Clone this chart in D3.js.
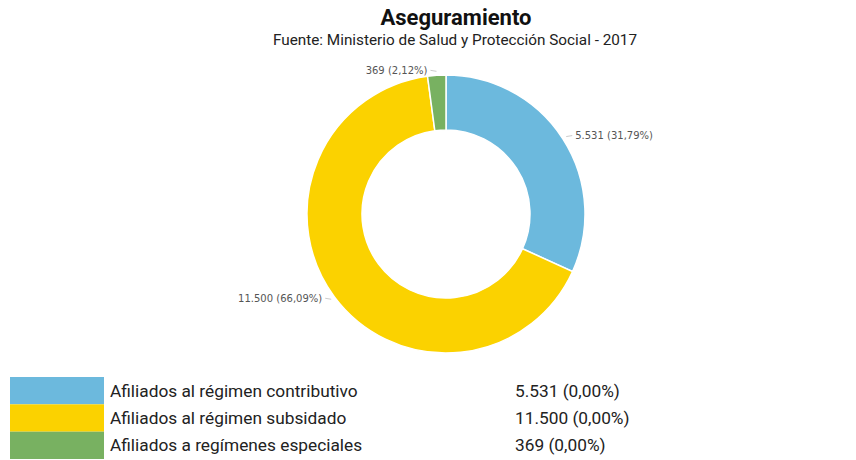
<!DOCTYPE html>
<html>
<head>
<meta charset="utf-8">
<script src="https://cdn.jsdelivr.net/npm/d3@7"></script>
<style>
  html, body { margin: 0; padding: 0; background: #fff; }
  svg { display: block; font-family: Roboto, "Noto Sans", sans-serif; }
</style>
</head>
<body>
<svg id="chart" width="856" height="460"></svg>
<script>
// Afiliados por régimen (2017)
const categories = [
  "Afiliados al régimen contributivo",
  "Afiliados al régimen subsidado",
  "Afiliados a regímenes especiales"
];
const values = [5531, 11500, 369];
const colors = ["#6cb9dd", "#fbd200", "#78b161"];
const legendValueLabels = ["5.531 (0,00%)", "11.500 (0,00%)", "369 (0,00%)"];

const title = "Aseguramiento";
const subtitle = "Fuente: Ministerio de Salud y Protección Social - 2017";

const svg = d3.select("#chart");

const fmtNum = d3.formatLocale({ decimal: ",", thousands: ".", grouping: [3], currency: ["$", ""] });
const fmtInt = fmtNum.format(",d");
const fmtPct = fmtNum.format(".2f");

// Titles
svg.append("text")
  .attr("x", 456).attr("y", 25)
  .attr("text-anchor", "middle")
  .attr("font-size", 22).attr("font-weight", 700)
  .attr("fill", "#111")
  .text(title);
svg.append("text")
  .attr("x", 455).attr("y", 45)
  .attr("text-anchor", "middle")
  .attr("font-size", 15.3)
  .attr("fill", "#222")
  .text(subtitle);

// Donut
const cx = 446, cy = 214, rOuter = 139, rInner = 84;
const total = d3.sum(values);
const pie = d3.pie().sort(null).value(d => d)(values);
const arc = d3.arc().innerRadius(rInner).outerRadius(rOuter);

const g = svg.append("g").attr("transform", `translate(${cx},${cy})`);
g.selectAll("path.slice")
  .data(pie)
  .join("path")
  .attr("class", "slice")
  .attr("d", arc)
  .attr("fill", (d, i) => colors[i])
  .attr("stroke", "#fff")
  .attr("stroke-width", 1.5);

// Outside labels with short leader lines
pie.forEach((d, i) => {
  const a = (d.startAngle + d.endAngle) / 2;
  const sx = Math.sin(a), sy = -Math.cos(a);
  const p0 = [sx * (rOuter + 4), sy * (rOuter + 4)];
  const right = sx >= 0;
  const p1 = [p0[0] + (right ? 6 : -6), p0[1] - 1];
  g.append("polyline")
    .attr("points", [p0, p1].map(p => p.join(",")).join(" "))
    .attr("fill", "none")
    .attr("stroke", "#ccc")
    .attr("stroke-width", 1);
  g.append("text")
    .attr("x", p1[0] + (right ? 3 : -3))
    .attr("y", p1[1] + 3.5)
    .attr("text-anchor", right ? "start" : "end")
    .attr("font-size", 10)
    .attr("font-family", "'DejaVu Sans', sans-serif")
    .attr("fill", "#555")
    .text(`${fmtInt(values[i])} (${fmtPct(values[i] / total * 100)}%)`);
});

// Legend table
const rowY = d3.scaleBand().domain(d3.range(categories.length)).range([377, 459]).padding(0);
const leg = svg.append("g");
categories.forEach((c, i) => {
  const y0 = rowY(i), h = rowY.bandwidth();
  leg.append("rect")
    .attr("x", 10).attr("y", y0)
    .attr("width", 94).attr("height", h)
    .attr("fill", colors[i]);
  leg.append("text")
    .attr("x", 110).attr("y", y0 + h / 2 + 6)
    .attr("font-size", 17.3).attr("fill", "#222")
    .text(c);
  leg.append("text")
    .attr("x", 515).attr("y", y0 + h / 2 + 6)
    .attr("font-size", 17.3).attr("fill", "#222")
    .text(legendValueLabels[i]);
});
</script>
</body>
</html>
